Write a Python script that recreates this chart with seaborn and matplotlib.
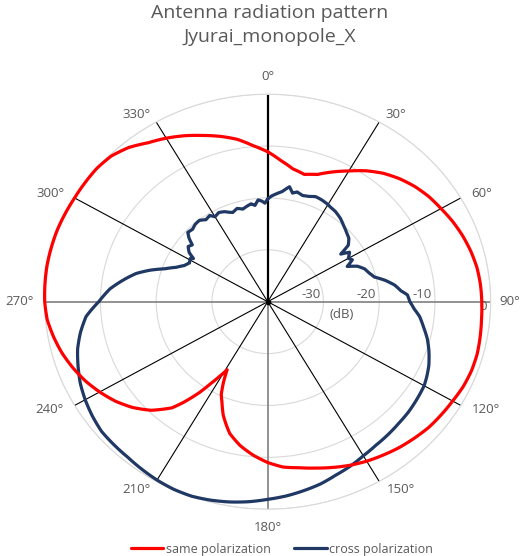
import numpy as np
import matplotlib
matplotlib.use("Agg")
import matplotlib.pyplot as plt
import seaborn as sns

# ---------------- data (dB vs angle in degrees) ----------------
same_angle = [0, 5, 10, 15, 20, 25, 30, 35, 40, 45, 50, 55, 60, 65, 70, 75, 80, 85, 90,
              95, 100, 105, 110, 115, 120, 125, 130, 135, 140, 145, 150, 155, 160, 165,
              170, 175, 180, 185, 190, 195, 200, 203, 205, 207, 209, 211, 213, 215, 218,
              220, 225, 230, 235, 240, 245, 250, 255, 260, 265, 270, 275, 280, 285, 290,
              295, 300, 305, 310, 315, 320, 325, 330, 335, 340, 345, 350, 355, 360]
same_db = [-11.1, -12.7, -14.0, -14.6, -13.9, -12.4, -10.9, -9.2, -7.7, -6.5, -5.5, -4.7,
           -4.1, -3.4, -2.8, -2.3, -1.9, -1.7, -1.6, -1.5, -1.3, -1.1, -1.1, -1.3, -1.7,
           -2.0, -2.3, -2.8, -3.3, -3.9, -4.5, -5.2, -6.0, -6.8, -7.5, -8.0, -9.0, -10.3,
           -11.8, -13.7, -16.7, -19.0, -20.3, -22.5, -25.0, -23.2, -21.1, -18.6, -15.3,
           -13.3, -10.4, -8.3, -6.6, -5.2, -3.9, -2.8, -1.8, -1.0, -0.3, 0.0, 0.1, 0.2,
           0.2, 0.2, 0.1, 0.0, 0.0, 0.0, -0.3, -1.2, -2.6, -3.6, -4.7, -5.9, -7.0, -8.2,
           -9.8, -11.1]

cross_angle = [0, 2, 4, 7, 10, 12, 14, 17, 20, 23, 26, 29, 32, 35, 39, 43, 47, 50, 53, 55,
               57, 60, 62, 64.5, 67, 70, 73, 76, 79, 82, 85, 87, 90, 93, 96, 100, 104, 108,
               113, 117, 120, 125, 130, 135, 140, 145, 150, 155, 160, 165, 170, 175, 180,
               185, 190, 195, 200, 205, 210, 215, 220, 225, 230, 235, 240, 245, 250, 255,
               260, 265, 270, 275, 280, 283, 286, 289, 292, 295, 298, 301, 302, 304, 306.7,
               309, 311, 313, 316, 319, 322, 325, 328, 330, 333, 336, 338, 340, 343, 346,
               348, 351, 353, 355, 357, 358.5, 360]
cross_db = [-20.2, -19.6, -19.2, -18.6, -17.5, -18.6, -18.2, -18.6, -18.4, -18.0, -18.1,
            -18.3, -18.6, -18.8, -19.3, -20.0, -20.6, -21.0, -21.9, -24.0, -22.5, -23.3,
            -22.8, -24.2, -22.5, -21.5, -21.0, -20.3, -18.5, -17.0, -16.0, -14.9, -14.5,
            -13.7, -12.6, -11.6, -10.5, -9.6, -8.6, -8.0, -7.6, -7.3, -7.0, -6.8, -6.5,
            -6.2, -5.7, -5.0, -4.4, -3.6, -3.0, -2.4, -1.9, -1.3, -0.8, -0.4, -0.1, -0.1,
            -0.3, -0.6, -0.9, -1.0, -1.1, -1.6, -2.2, -2.9, -3.8, -4.7, -5.9, -7.3, -9.7,
            -11.6, -14.2, -15.8, -18.0, -20.5, -22.3, -23.5, -24.1, -23.8, -24.3, -23.0,
            -22.2, -22.6, -21.3, -20.4, -20.6, -20.2, -20.1, -20.7, -20.4, -21.1, -20.7,
            -21.0, -21.4, -21.7, -21.2, -21.6, -21.3, -20.9, -21.3, -20.3, -20.6, -21.0,
            -20.2]

r_ticks = [-30, -20, -10, 0]
r_tick_labels = ["-30", "-20", "-10", "0"]
angle_ticks = list(range(0, 360, 30))
angle_labels = [f"{a}°" for a in angle_ticks]
series_names = ["same polarization", "cross polarization"]
title_text = "Antenna radiation pattern\nJyurai_monopole_X"

# ---------------- style ----------------
sns.set_style("white")
plt.rcParams['font.family'] = ['Open Sans', 'DejaVu Sans']
TXT = '#595959'
RED = '#FF0000'
NAVY = '#203864'

W, H = 520, 556
fig = plt.figure(figsize=(W / 100, H / 100), dpi=100)
cx, cy, rx, ry = 267.7, 301.7, 223.0, 207.5
ax = fig.add_axes([(cx - rx) / W, (H - cy - ry) / H, 2 * rx / W, 2 * ry / H],
                  projection='polar')
ax.set_aspect('auto')
ax.set_theta_zero_location('N')
ax.set_theta_direction(-1)
ax.set_ylim(-40, 0)

# grid circles
ax.set_xticks([])
ax.set_yticks(r_ticks)
ax.set_yticklabels([])
ax.yaxis.grid(True, color='#d9d9d9', lw=0.8)
ax.spines['polar'].set_color('#d9d9d9')
ax.spines['polar'].set_linewidth(0.8)

# spokes
for a in angle_ticks:
    th = np.deg2rad(a)
    if a == 0:
        ax.plot([th, th], [-40, 0], color='black', lw=1.6, zorder=2)
    elif a in (90, 180, 270):
        ax.plot([th, th], [-40, 0], color='#7f7f7f', lw=1.2, zorder=2)
    else:
        ax.plot([th, th], [-40, 0], color='black', lw=0.8, zorder=2)
ax.plot([0], [-40], marker='o', ms=3, color='black', zorder=2)

# series
n_before = len(ax.lines)
sns.lineplot(x=np.deg2rad(same_angle), y=same_db, ax=ax, sort=False, estimator=None,
             color=RED, lw=2.3, label=series_names[0], zorder=4)
sns.lineplot(x=np.deg2rad(cross_angle), y=cross_db, ax=ax, sort=False, estimator=None,
             color=NAVY, lw=2.3, label=series_names[1], zorder=3)
for ln in ax.lines[n_before:]:
    ln.set_clip_on(False)
    ln.set_solid_joinstyle('round')
    ln.get_path()._interpolation_steps = 12
ax.set_xlabel('')
ax.set_ylabel('')
handles, labels = ax.get_legend_handles_labels()
ax.get_legend().remove()

# radial labels along 90°
for v, lab in zip(r_ticks, r_tick_labels):
    if v == 0:
        ax.annotate(lab, (np.deg2rad(90), v), xytext=(-4, -5), textcoords='offset pixels',
                    ha='right', va='center', color=TXT, fontsize=9.5)
    else:
        ax.annotate(lab, (np.deg2rad(90), v), xytext=(-3, 1), textcoords='offset pixels',
                    ha='right', va='bottom', color=TXT, fontsize=9.5)
ax.annotate('(dB)', (np.deg2rad(90), -26.8), xytext=(0, -13), textcoords='offset pixels',
            ha='center', va='center', color=TXT, fontsize=9.5)

# angle labels
offsets = {0: (0, 18, 'center'), 30: (6, 7, 'left'), 60: (10, 4, 'left'),
           90: (9, 0, 'left'), 120: (11, -4.5, 'left'), 150: (7.5, -7.6, 'left'),
           180: (0, -18, 'center'), 210: (-6, -7.6, 'right'), 240: (-11, -4.5, 'right'),
           270: (-11, 0, 'right'), 300: (-10.5, 4, 'right'), 330: (-5.5, 7, 'right')}
for a, lab in zip(angle_ticks, angle_labels):
    dx, dy, ha = offsets[a]
    ax.annotate(lab, (np.deg2rad(a), 0), xytext=(dx, dy), textcoords='offset pixels',
                ha=ha, va='center', color=TXT, fontsize=9.5, annotation_clip=False)

fig.text(270 / W, 1 - 4 / H, title_text, ha='center', va='top', color=TXT, fontsize=14,
         linespacing=1.45)

fig.legend(handles, labels, loc='center', bbox_to_anchor=(282 / W, 1 - 549 / H), ncol=2,
           frameon=False, fontsize=9, handlelength=2.6, columnspacing=1.9,
           handletextpad=0.2, labelcolor=TXT)

fig.savefig('out.png', dpi=100)
